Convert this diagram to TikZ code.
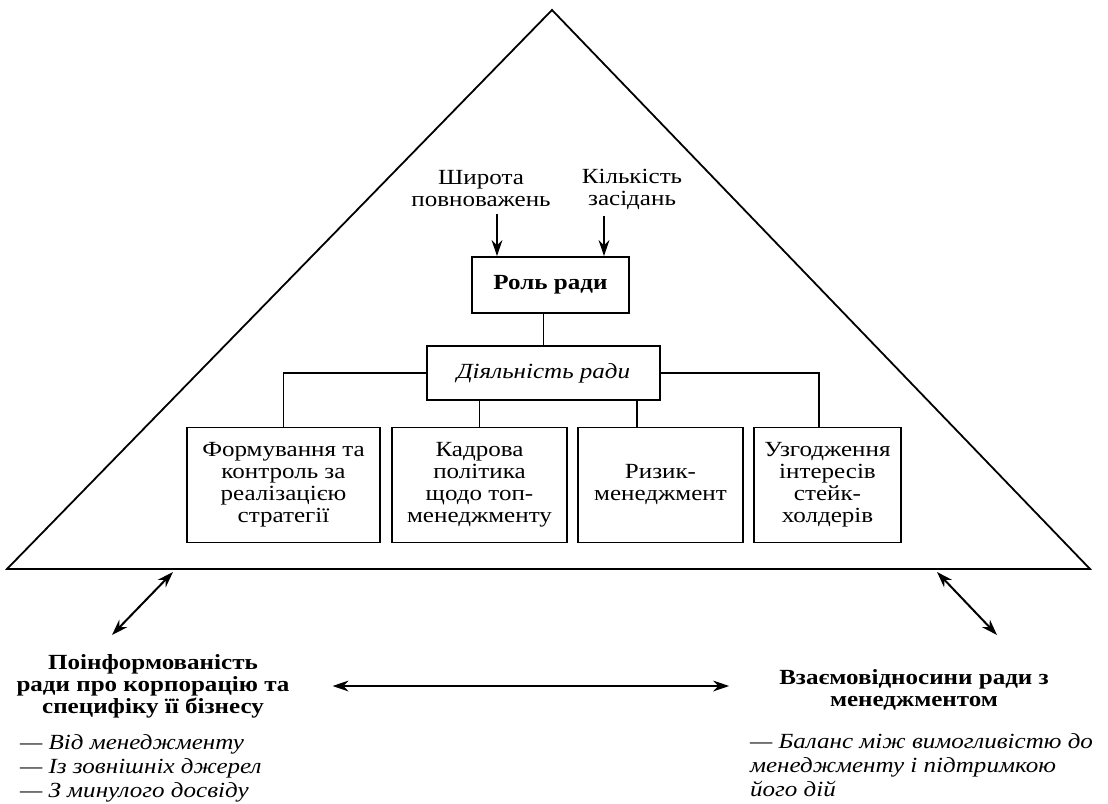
\documentclass[tikz,border=0pt]{standalone}
\usepackage{fontspec}
\setmainfont{Liberation Serif}[FakeStretch=1.16]
\usetikzlibrary{arrows.meta, positioning}

\newcommand{\diagfont}{\fontsize{10.8}{11}\selectfont}
\newcommand{\listfont}{\fontsize{10.8}{12.2}\selectfont\itshape}

\begin{document}
\begin{tikzpicture}[x=0.5pt, y=-0.5pt, >={Stealth[length=8pt, width=5.4pt]}, font=\diagfont,
		box/.style={draw, rectangle, line width=0.9pt, align=center, inner sep=0pt, minimum height=57.5pt},
		link/.style={line width=0.8pt}]
	\useasboundingbox (0, 0) rectangle (1108, 803);
	% pyramid
	\coordinate (apex) at (552, 10);
	\coordinate (baseR) at (1090, 569);
	\coordinate (baseL) at (7, 569);
	\draw[line width=0.9pt, line join=miter] (apex) -- (baseR) -- (baseL) -- cycle;

	\node[align=center] (scope) at (481, 189) {Широта\\повноважень};
	\node[align=center] (meetings) at (632, 189) {Кількість\\засідань};
	\node[box, minimum width=78.5pt, minimum height=28pt, font=\diagfont\bfseries] (role) at (550.5, 285) {Роль ради};
	\node[box, minimum width=116.5pt, minimum height=27pt, font=\diagfont\itshape] (activity) at (543.5, 373) {Діяльність ради};

	\node[box, minimum width=96.5pt] (strat) at (283.5, 485) {Формування та\\контроль за\\реалізацією\\стратегії};
	\node[box, minimum width=87.5pt] (staff) at (479.5, 485) {Кадрова\\політика\\щодо топ-\\менеджменту};
	\node[box, minimum width=82.5pt] (risk) at (660.5, 485) {Ризик-\\менеджмент};
	\node[box, minimum width=73.5pt] (stake) at (827.5, 485) {Узгодження\\інтересів\\стейк-\\холдерів};

	\draw[->, link] ([xshift=8pt]scope.south) -- ([xshift=8pt]scope.south |- role.north);
	\draw[->, link] ([xshift=-14pt]meetings.south) -- ([xshift=-14pt]meetings.south |- role.north);
	\draw[link] (activity.north) -- (activity.north |- role.south);
	\draw[link] (activity.west) -| (strat.north);
	\draw[link] (activity.east) -| ([xshift=-4.25pt]stake.north);
	\draw[link] (staff.north) -- (staff.north |- activity.south);
	\draw[link] ([xshift=-11.75pt]risk.north) -- ([xshift=-11.75pt]risk.north |- activity.south);

	% below the pyramid
	\node[align=center, font=\diagfont\bfseries] (inform) at (153, 686) {Поінформованість\\ради про корпорацію та\\специфіку її бізнесу};
	\node[align=center, font=\diagfont\bfseries] (relat) at (914, 690) {Взаємовідносини ради з\\менеджментом};
	\node[align=left, anchor=north west, font=\listfont] (informlist) at (13, 727) {— Від менеджменту\\— Із зовнішніх джерел\\— З минулого досвіду};
	\node[align=left, anchor=north west, font=\listfont] (relatlist) at (743, 726) {— Баланс між вимогливістю до\\менеджменту і підтримкою\\його дій};

	\coordinate (lefttop) at (173, 572);
	\coordinate (leftend) at (112, 635);
	\coordinate (righttop) at (937, 572);
	\coordinate (rightend) at (997, 635);
	\draw[<->, link, line width=1pt] (lefttop) -- (leftend);
	\draw[<->, link, line width=1pt] (righttop) -- (rightend);
	\draw[<->, link, line width=1pt, shorten <=18pt, shorten >=21.5pt] (inform.east) -- (inform.east -| relat.west);
\end{tikzpicture}
\end{document}
